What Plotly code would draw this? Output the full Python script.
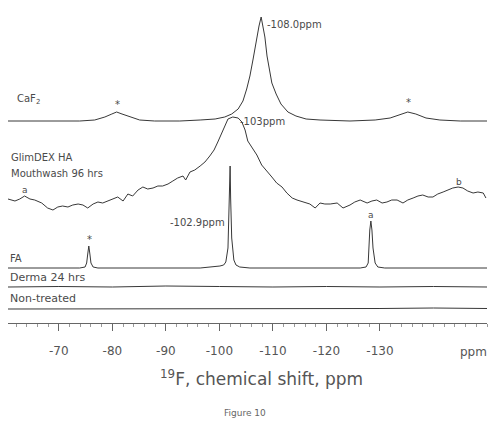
import plotly.graph_objects as go

# ---------------- data ----------------
caf2_ppm = [-60.5, -68.3, -73.9, -76.7, -78.6, -79.9, -80.8, -81.8, -83.3, -85.1, -87.9, -92.6,
            -96.4, -99.2, -101.0, -102.3, -103.5, -104.4, -105.1, -105.7, -106.3, -106.8, -107.4,
            -107.8, -108.1, -108.5, -108.9, -109.3, -109.8, -110.6, -111.5, -112.8, -114.3, -116.2,
            -118.8, -124.4, -129.1, -131.9, -133.7, -135.2, -136.7, -138.6, -141.2, -145.0, -150.0]
caf2_int = [0, 0, 0, 1, 4, 7, 9, 7, 4, 1, 0, 0,
            1, 2, 4, 7, 12, 20, 32, 45, 62, 78, 95,
            104, 96, 84, 65, 52, 38, 27, 17, 9, 5, 2,
            1, 0, 1, 3, 6, 9, 7, 3, 1, 0, 0]

glim_ppm = [-60.5, -61.8, -62.7, -63.6, -64.6, -65.5, -66.8, -67.9, -68.9, -69.8, -70.7, -71.7,
            -72.6, -73.6, -74.5, -75.4, -76.4, -77.3, -78.2, -79.2, -80.1, -81.0, -82.0, -82.9,
            -83.8, -84.8, -85.7, -86.6, -87.6, -88.5, -89.4, -90.4, -91.3, -92.2, -93.2, -93.7,
            -94.5, -95.4, -96.4, -97.3, -98.2, -99.0, -99.7, -100.5, -101.0, -101.6, -102.5,
            -103.5, -104.2, -104.8, -105.3, -106.1, -107.0, -107.9, -108.9, -109.8, -110.7,
            -111.7, -112.6, -113.6, -114.5, -115.6, -116.9, -117.9, -118.8, -119.7, -120.7,
            -122.0, -123.1, -124.4, -125.3, -126.3, -127.6, -128.5, -129.4, -130.4, -131.3,
            -132.2, -133.2, -134.3, -135.2, -136.2, -137.1, -138.0, -139.0, -139.9, -140.8,
            -141.8, -142.7, -143.6, -144.6, -145.5, -146.4, -147.4, -148.3, -149.3, -149.8]
glim_int = [11, 9, 11, 14, 11, 10, 7, 2, 0, 3, 4, 3,
            5, 6, 5, 2, 6, 8, 7, 9, 11, 13, 9, 16,
            14, 20, 23, 21, 22, 24, 24, 26, 29, 32, 34, 30,
            38, 40, 44, 48, 54, 60, 68, 77, 84, 91, 93,
            92, 88, 80, 69, 62, 55, 45, 39, 33, 27,
            23, 17, 12, 10, 8, 6, 2, 7, 6, 6,
            7, 2, 5, 8, 10, 7, 9, 10, 7, 8,
            10, 10, 7, 10, 12, 14, 15, 13, 13, 16,
            18, 20, 22, 23, 22, 19, 17, 18, 17, 12]

fa_ppm = [-60.5, -73.9, -74.9, -75.2, -75.4, -75.6, -75.8, -76.0, -76.4, -77.3, -96.4, -99.2,
          -100.1, -100.8, -101.2, -101.6, -101.8, -102.0, -102.1, -102.3, -102.7, -103.1,
          -103.8, -105.7, -126.3, -127.4, -127.8, -127.9, -128.1, -128.3, -128.5, -128.7,
          -129.1, -129.6, -130.9, -150.0]
fa_int = [0, 0, 1, 5, 14, 22, 14, 5, 1, 0, 0, 1,
          2, 3, 6, 20, 60, 102, 70, 30, 8, 3,
          1, 0, 0, 1, 5, 20, 38, 47, 38, 20,
          5, 1, 0, 0]

derma_ppm = [-60.5, -70, -80, -90, -100, -110, -120, -130, -140, -150]
derma_int = [0, 0.5, 0, 1, 0.5, 0, 0.5, 0, 0.5, 0]

non_ppm = [-60.5, -70, -80, -90, -100, -110, -120, -130, -140, -150]
non_int = [0, 0, 0.5, 0, 0.5, 0, 0, 0.5, 1, 0.5]

tick_vals = [-70, -80, -90, -100, -110, -120, -130]
tick_text = ["-70", "-80", "-90", "-100", "-110", "-120", "-130"]

# vertical stacking offsets (layout)
offsets = {"CaF2": 202, "Glim": 113, "FA": 55, "Derma": 36, "Non": 14}

W, H = 501, 437
L, R, T, B = 8, 14, 5, 114
PW, PH = W - L - R, H - T - B
FONT = "DejaVu Sans"
LINE = "#383838"
TXT = "#4a4a4a"

fig = go.Figure()
for ppm, inten, key in [(caf2_ppm, caf2_int, "CaF2"), (glim_ppm, glim_int, "Glim"),
                        (fa_ppm, fa_int, "FA"), (derma_ppm, derma_int, "Derma"),
                        (non_ppm, non_int, "Non")]:
    fig.add_trace(go.Scatter(x=ppm, y=[v + offsets[key] for v in inten], mode="lines",
                             line=dict(color=LINE, width=1), hoverinfo="skip", showlegend=False))


def px(x):
    return (x - L) / PW


def py(y):
    return (H - B - y) / PH


def ann(text, x, y, size, xanchor="left", color=TXT):
    fig.add_annotation(text=text, x=px(x), y=py(y), xref="paper", yref="paper",
                       xanchor=xanchor, yanchor="middle", showarrow=False,
                       font=dict(family=FONT, size=size, color=color))


ann("CaF<sub>2</sub>", 15, 99, 10)
ann("*", 117, 104, 10, "center")
ann("*", 408, 102, 10, "center")
ann("-108.0ppm", 265, 25, 10)
ann("GlimDEX HA", 9, 157, 10)
ann("Mouthwash 96 hrs", 9, 173, 10)
ann("-103ppm", 238, 121, 10)
ann("a", 25, 190, 9, "center")
ann("b", 459, 182, 9, "center")
ann("-102.9ppm", 227, 222, 10, "right")
ann("*", 89, 239, 10, "center")
ann("a", 371, 215, 9, "center")
ann("FA", 8, 258, 10)
ann("Derma 24 hrs", 8, 277, 11)
ann("Non-treated", 8, 298, 11)
ann("ppm", 473, 352, 12, "center", "#555555")
ann("<sup>19</sup>F, chemical shift, ppm", 261, 378, 17, "center", "#555555")
ann("Figure 10", 245, 413, 9, "center", "#666666")

fig.update_layout(
    width=W, height=H, margin=dict(l=L, r=R, t=T, b=B),
    paper_bgcolor="white", plot_bgcolor="white",
    xaxis=dict(range=[-60.5, -150], showgrid=False, zeroline=False, showline=True,
               linecolor="#666666", linewidth=1, ticks="outside", ticklen=7, tickcolor="#666666",
               tickvals=tick_vals, ticktext=tick_text, ticklabelstandoff=10,
               tickfont=dict(family=FONT, size=12, color="#555555"),
               minor=dict(ticks="outside", ticklen=3, dtick=2, tickcolor="#999999")),
    yaxis=dict(range=[0, PH], visible=False),
)

fig.write_html("out.html")
